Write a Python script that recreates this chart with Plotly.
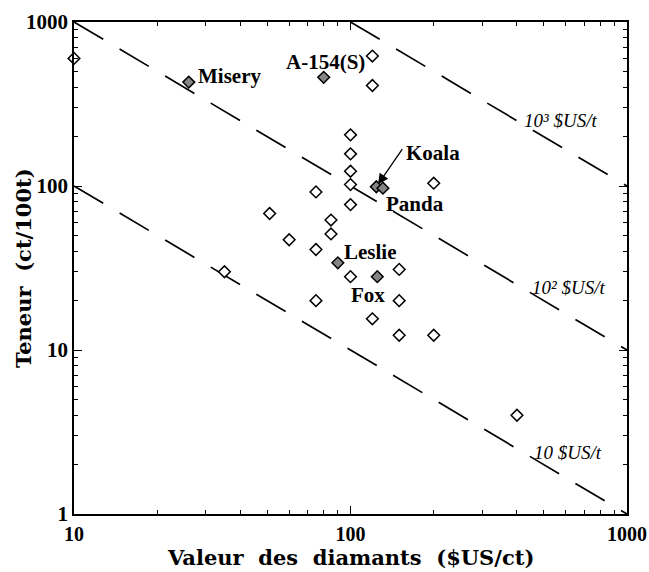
import math
import plotly.graph_objects as go

# ---- data ----
open_x = [10, 120, 120, 100, 100, 100, 100, 75, 200, 100, 51, 85, 85, 60, 75, 35,
          100, 150, 75, 150, 120, 150, 200, 400]
open_y = [600, 620, 410, 205, 157, 123, 102, 92, 104, 77, 68, 62, 51, 47, 41, 30,
          28, 31, 20, 20, 15.5, 12.3, 12.3, 4]

named = ["Misery", "A-154(S)", "Koala", "Panda", "Leslie", "Fox"]
named_x = [26, 80, 124, 131, 90, 125]
named_y = [430, 460, 99, 97, 34, 28]

iso_values = [10, 100, 1000]          # $US/t
iso_labels = ["10 $US/t", "10² $US/t", "10³ $US/t"]
iso_label_x = [453, 446, 417]         # where each label sits along its line

x_ticks = [10, 100, 1000]
y_ticks = [1, 10, 100, 1000]
minor_x = [m * d for d in (10, 100) for m in range(2, 10)]
minor_y = [m * d for d in (1, 10, 100) for m in range(2, 10)]

x_title = "Valeur\u00a0\u00a0des\u00a0\u00a0diamants\u00a0\u00a0($US/ct)"
y_title = "Teneur\u00a0\u00a0(ct/100t)"

SERIF = "Liberation Serif"
WIDE = "DejaVu Serif"
L = math.log10

fig = go.Figure()

# iso-value lines: grade (ct/100t) = value * 100 / price
for v in iso_values:
    x0 = max(10, v / 10)
    xs = [x0, 1000]
    ys = [v * 100 / x for x in xs]
    fig.add_trace(go.Scatter(x=xs, y=ys, mode="lines",
                             line=dict(color="black", width=1.7, dash="34px,19px"),
                             hoverinfo="skip", showlegend=False))

fig.add_trace(go.Scatter(x=open_x, y=open_y, mode="markers",
                         marker=dict(symbol="diamond", size=9, color="white",
                                     line=dict(color="black", width=1.5)),
                         cliponaxis=False, showlegend=False))
fig.add_trace(go.Scatter(x=named_x, y=named_y, mode="markers",
                         marker=dict(symbol="diamond", size=9, color="#858585",
                                     line=dict(color="black", width=1.5)),
                         cliponaxis=False, showlegend=False))

lab_font = dict(family=SERIF, size=21, color="black", weight="bold")
# offsets (px) of each label relative to its point
offs = {
    "Misery": dict(xanchor="left", xshift=7, yshift=6),
    "A-154(S)": dict(xanchor="center", xshift=2, yshift=15),
    "Koala": dict(xanchor="left", xshift=28, yshift=34),
    "Panda": dict(xanchor="left", xshift=1, yshift=-16),
    "Leslie": dict(xanchor="left", xshift=4, yshift=11),
    "Fox": dict(xanchor="center", xshift=-9, yshift=-18),
}
for n, x, y in zip(named, named_x, named_y):
    fig.add_annotation(x=L(x), y=L(y), xref="x", yref="y", text=n, font=lab_font,
                       showarrow=False, yanchor="middle", **offs[n])
    if n == "Koala":
        fig.add_annotation(x=L(x), y=L(y), xref="x", yref="y", text="",
                           showarrow=True, ax=27, ay=-39, arrowhead=2, arrowsize=1.6,
                           arrowwidth=1.3, arrowcolor="black", standoff=3)

iso_shift = [5.6, 4.6, 3]
for v, t, lx, ys in zip(iso_values, iso_labels, iso_label_x, iso_shift):
    fig.add_annotation(x=L(lx), y=L(v * 100 / lx), xref="x", yref="y", text=t,
                       font=dict(family=SERIF, size=19, color="black", style="italic"),
                       showarrow=False, xanchor="left", yanchor="middle", yshift=ys)

title_font = dict(family=WIDE, size=21, color="black", weight="bold")
fig.add_annotation(x=0.5, y=0, xref="paper", yref="paper", text=x_title, font=title_font,
                   showarrow=False, xanchor="center", yanchor="bottom", yshift=-58)
fig.add_annotation(x=0, y=0.5, xref="paper", yref="paper", text=y_title, font=title_font,
                   showarrow=False, textangle=-90, xanchor="center", yanchor="middle",
                   xshift=-51)

axis_common = dict(type="log", showgrid=False, zeroline=False, ticks="inside",
                   ticklen=8, tickwidth=1.2, tickcolor="black", showline=True,
                   linecolor="black", linewidth=1.6, mirror="allticks", automargin=False)

fig.update_layout(
    width=649, height=572,
    margin=dict(l=74, r=22, t=22, b=58),
    paper_bgcolor="white", plot_bgcolor="white",
    xaxis=dict(range=[1, 3], tickvals=x_ticks, ticktext=[str(v) for v in x_ticks],
               ticklabelstandoff=1,
               tickfont=dict(family=SERIF, size=20, color="black", weight="bold"),
               minor=dict(tickvals=minor_x, ticks="inside", ticklen=4, tickcolor="black", showgrid=False),
               **axis_common),
    yaxis=dict(range=[0, 3], tickvals=y_ticks, ticktext=[str(v) for v in y_ticks],
               tickfont=dict(family=SERIF, size=21, color="black", weight="bold"),
               minor=dict(tickvals=minor_y, ticks="inside", ticklen=4, tickcolor="black", showgrid=False),
               **axis_common),
)

fig.write_html("out.html")
